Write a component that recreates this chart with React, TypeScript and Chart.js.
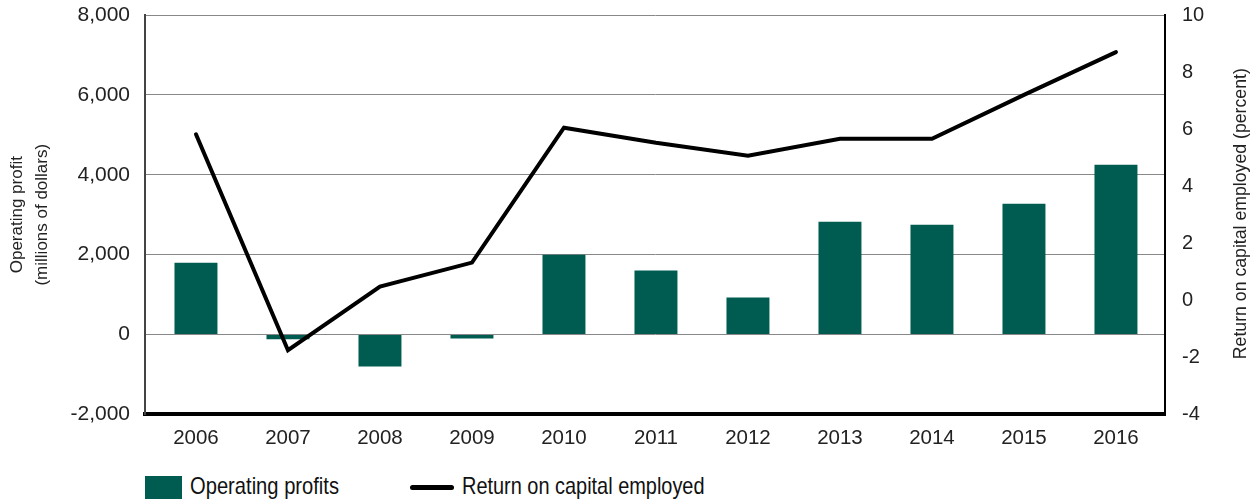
import React, { useEffect, useRef } from "react";
import { Chart, registerables } from "chart.js";

Chart.register(...registerables);

const years = ["2006", "2007", "2008", "2009", "2010", "2011", "2012", "2013", "2014", "2015", "2016"];
const operatingProfits = [1800, -120, -800, -100, 2000, 1600, 925, 2825, 2750, 3275, 4250];
const returnOnCapital = [5.82, -1.75, 0.48, 1.32, 6.05, 5.52, 5.07, 5.66, 5.66, 7.2, 8.7];
const leftTicks = [-2000, 0, 2000, 4000, 6000, 8000];
const rightTicks = [-4, -2, 0, 2, 4, 6, 8, 10];
const leftTitle = ["Operating profit", "(millions of dollars)"];
const rightTitle = "Return on capital employed (percent)";

const GREEN = "#005C50";
const FONT = "'Liberation Sans', Arial, sans-serif";

// the categories sit slightly inset from the left/right axis lines
const X_START = -0.554;
const X_RANGE = 11.087;

const insetCategoryPlugin = {
  id: "insetCategory",
  afterLayout(chart: any) {
    const x = chart.scales.x;
    if (x) {
      x._startValue = X_START;
      x._valueRange = X_RANGE;
    }
  },
};

const rightTitlePlugin = {
  id: "rightTitle",
  afterDraw(chart: any) {
    const { ctx, chartArea } = chart;
    ctx.save();
    ctx.translate(1241, (chartArea.top + chartArea.bottom) / 2 - 1);
    ctx.rotate(-Math.PI / 2);
    ctx.font = `17.7px ${FONT}`;
    ctx.fillStyle = "#222";
    ctx.textAlign = "center";
    ctx.textBaseline = "middle";
    ctx.fillText(rightTitle, 0, 0);
    ctx.restore();
  },
};

export default function App() {
  const ref = useRef<HTMLCanvasElement | null>(null);

  useEffect(() => {
    if (!ref.current) return;
    const chart = new Chart(ref.current, {
      type: "bar",
      data: {
        labels: years,
        datasets: [
          {
            type: "line",
            label: "Return on capital employed",
            data: returnOnCapital,
            yAxisID: "y1",
            borderColor: "#000",
            borderWidth: 4,
            borderCapStyle: "round",
            pointRadius: 0,
            tension: 0,
            order: 0,
          } as any,
          {
            type: "bar",
            label: "Operating profits",
            data: operatingProfits,
            yAxisID: "y",
            backgroundColor: GREEN,
            categoryPercentage: 1,
            barPercentage: 0.467,
            order: 1,
          },
        ],
      },
      plugins: [insetCategoryPlugin, rightTitlePlugin],
      options: {
        animation: false,
        responsive: false,
        maintainAspectRatio: false,
        layout: { padding: { top: 6, right: 0, left: 0, bottom: 0 } },
        plugins: { legend: { display: false }, tooltip: { enabled: false } },
        scales: {
          x: {
            grid: { display: false, drawTicks: false },
            border: { display: true, color: "#000", width: 4 },
            ticks: { color: "#222", font: { family: FONT, size: 20.5 }, padding: 12 },
          },
          y: {
            position: "left",
            min: -2000,
            max: 8000,
            afterBuildTicks: (scale: any) => {
              scale.ticks = leftTicks.map((v) => ({ value: v }));
            },
            afterFit: (scale: any) => {
              scale.width = 145;
            },
            grid: { color: "#888", lineWidth: 1, drawTicks: false },
            border: { display: true, color: "#444", width: 2 },
            ticks: {
              color: "#222",
              font: { family: FONT, size: 21 },
              padding: 15,
              callback: (v: any) => Number(v).toLocaleString("en-US"),
            },
            title: {
              display: true,
              text: leftTitle,
              color: "#222",
              font: { family: FONT, size: 17, lineHeight: 1.45 },
              padding: { top: 5, bottom: 0 },
            },
          },
          y1: {
            position: "right",
            min: -4,
            max: 10,
            afterBuildTicks: (scale: any) => {
              scale.ticks = rightTicks.map((v) => ({ value: v }));
            },
            afterFit: (scale: any) => {
              scale.width = 89;
            },
            grid: { display: false, drawTicks: false },
            border: { display: true, color: "#000", width: 2 },
            ticks: { color: "#222", font: { family: FONT, size: 20 }, padding: 17 },
          },
        },
      },
    });
    return () => chart.destroy();
  }, []);

  return (
    <div style={{ position: "absolute", left: 0, top: 0, width: 1254, height: 502, background: "#fff", overflow: "hidden" }}>
      <canvas ref={ref} width={1254} height={477} style={{ display: "block", position: "absolute", left: 0, top: -14 }} />
      <div
        style={{
          position: "absolute",
          left: 145,
          top: 474,
          display: "flex",
          alignItems: "center",
          fontFamily: FONT,
          fontSize: 24,
          color: "#111",
          whiteSpace: "nowrap",
        }}
      >
        <span style={{ display: "inline-block", width: 37, height: 23, background: GREEN, marginRight: 8 }} />
        <span style={{ display: "inline-block", width: 220, position: "relative", height: 26 }}>
          <span style={{ position: "absolute", left: 0, top: -2, transform: "scaleX(0.84)", transformOrigin: "left center" }}>
            Operating profits
          </span>
        </span>
        <span style={{ display: "inline-block", width: 44, height: 5, borderRadius: 3, background: "#000", marginRight: 8 }} />
        <span style={{ display: "inline-block", position: "relative", height: 26, width: 300 }}>
          <span style={{ position: "absolute", left: 0, top: -2, transform: "scaleX(0.83)", transformOrigin: "left center" }}>
            Return on capital employed
          </span>
        </span>
      </div>
    </div>
  );
}
